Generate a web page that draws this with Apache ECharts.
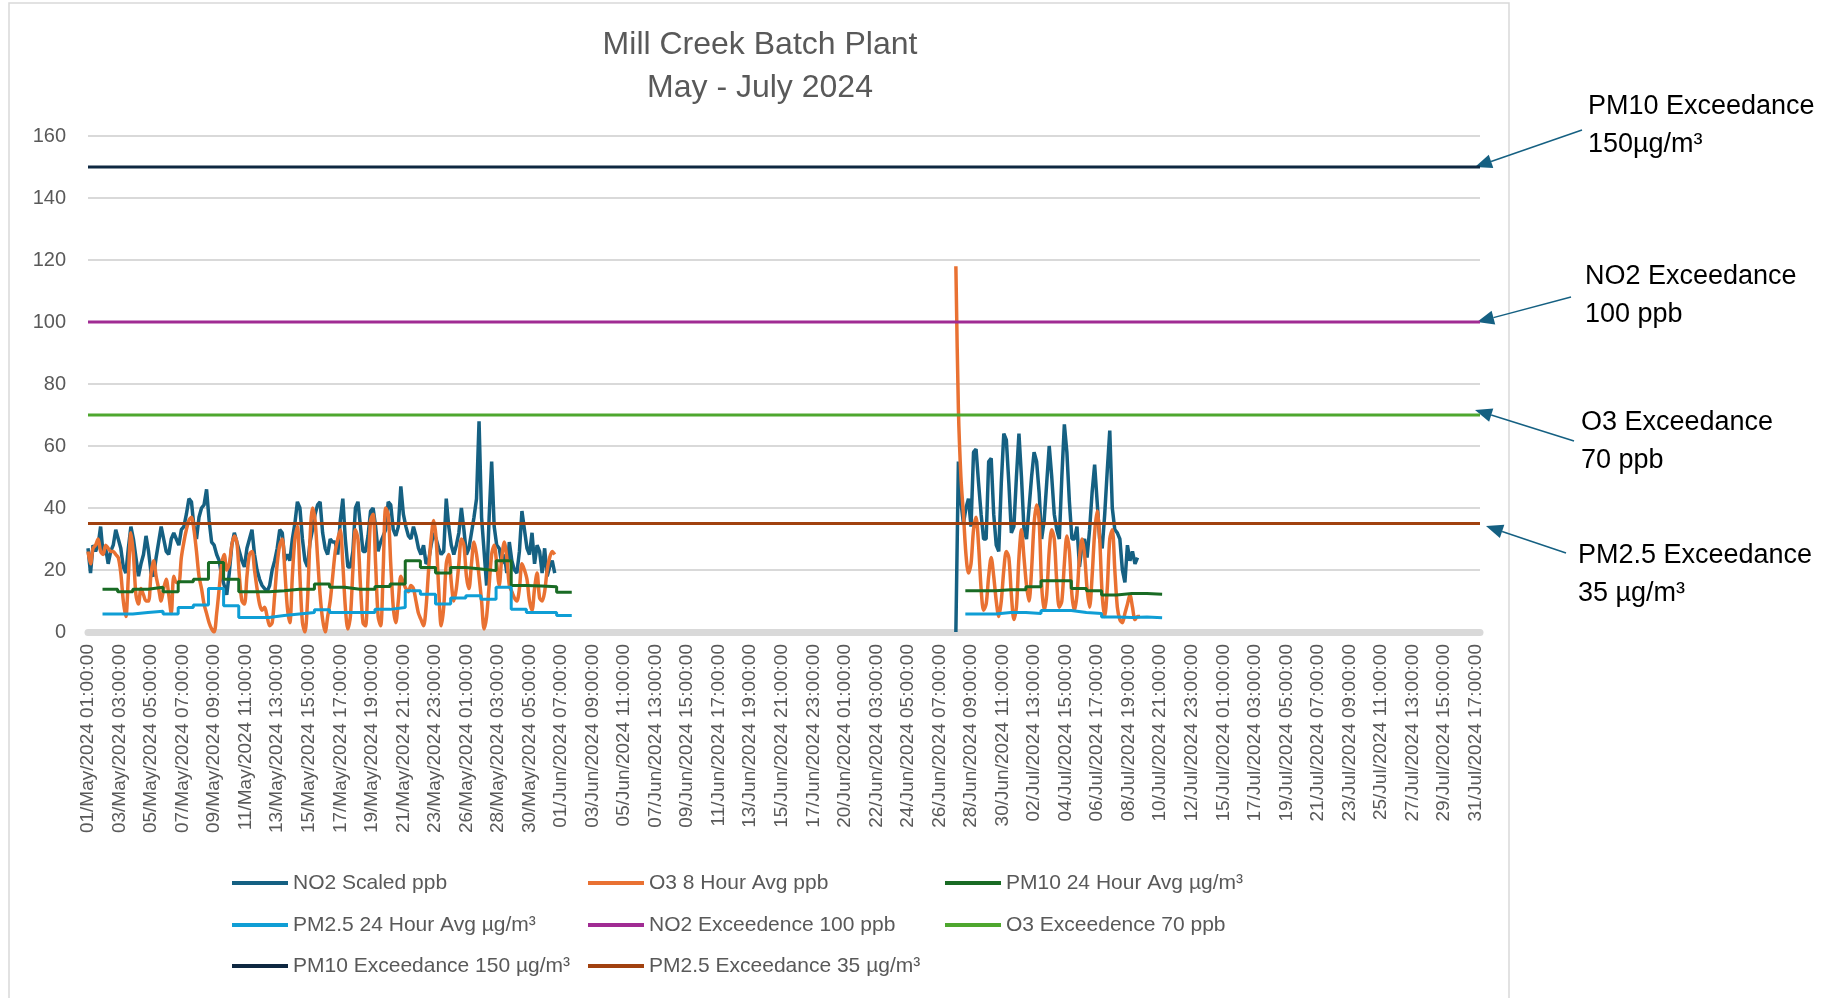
<!DOCTYPE html>
<html>
<head>
<meta charset="utf-8">
<title>Mill Creek Batch Plant</title>
<script src="https://cdn.jsdelivr.net/npm/echarts@6.0.0/dist/echarts.min.js"></script>
<style>
  html, body { margin: 0; padding: 0; background: #fff; }
  #chart { width: 1838px; height: 998px; }
</style>
</head>
<body>
<div id="chart"></div>
<script>
// hourly categories, 01/May/2024 01:00 to 01/Aug/2024 00:00
const startTime = Date.UTC(2024, 4, 1, 1);
const hourCount = 2208;
const monthNames = ['Jan', 'Feb', 'Mar', 'Apr', 'May', 'Jun', 'Jul', 'Aug'];

// NO2 Scaled ppb, one reading every 4 hours from 01/May 01:00
const no2May = [
  27, 19, 28, 26, 28, 34,  25, 27, 22, 26, 28, 33,  30, 27, 21, 19, 27, 34,
  30, 24, 18, 22, 25, 31,  26, 19, 18, 24, 29, 34,  30, 26, 25, 30, 32, 30,
  28, 33, 34, 38, 43, 42,  34, 30, 37, 40, 41, 46,  36, 29, 28, 25, 23, 18,
  15, 12, 19, 28, 32, 29,  26, 23, 21, 27, 30, 33,  25, 20, 17, 15, 14, 13,
  15, 20, 23, 27, 33, 32,  23, 25, 23, 30, 35, 42,  40, 30, 23, 21, 29, 33,
  38, 41, 42, 32, 27, 25,  30, 29, 29, 25, 36, 43,  30, 21, 21, 26, 40, 42,
  34, 26, 26, 31, 39, 40,  34, 26, 29, 31, 33, 42,  41, 33, 31, 34, 47, 38,
  34, 31, 30, 34, 31, 27,  25, 28, 22, 23, 28, 32,  30, 27, 25, 26, 43, 34,
  28, 25, 28, 32, 40, 33,  25, 27, 32, 37, 43, 68,  37, 26, 15, 37, 55, 34,
  28, 27, 22, 25, 19, 29,  23, 20, 19, 26, 39, 33,  27, 25, 32, 22, 28, 26,
  19, 27, 18, 21, 23, 19
];
// every 4 hours from 27/Jun 09:00
const no2Jun = [
  0, 55, 42, 35, 40, 43, 34, 58, 59, 48, 38, 30, 30, 55, 56, 38, 28, 26,
  48, 64, 62, 48, 32, 34, 50, 64, 50, 33, 30, 40, 50, 58, 55, 45, 30, 36,
  48, 60, 50, 38, 33, 30, 50, 67, 58, 42, 30, 30, 34, 21, 28, 30, 24, 33,
  45, 54, 42, 30, 27, 38, 52, 65, 40, 33, 32, 30, 20, 16, 28, 23, 26, 22, 24
];

// O3 8 Hour Avg ppb, same timing as NO2
const o3May = [
  26, 22, 27, 28, 30, 26,  25, 28, 27, 26, 26, 25,  24, 19, 10, 5, 18, 32,
  25, 12, 9, 14, 12, 10,  10, 19, 23, 18, 14, 10,  14, 17, 12, 6, 18, 16,
  16, 24, 29, 33, 36, 37,  33, 26, 18, 14, 9, 6,  3, 1, 0, 6, 14, 22,
  25, 20, 22, 28, 31, 29,  18, 10, 9, 18, 25, 26,  20, 14, 9, 7, 8, 5,
  2, 3, 12, 22, 28, 30,  20, 8, 3, 18, 30, 34,  18, 3, 0, 10, 30, 40,
  36, 24, 12, 4, 0, 5,  10, 18, 26, 30, 33, 22,  8, 1, 5, 20, 33, 30,
  15, 3, 2, 18, 36, 38,  22, 5, 2, 20, 40, 38,  22, 8, 3, 10, 18, 16,
  14, 13, 15, 14, 10, 6,  4, 2, 8, 20, 30, 36,  30, 14, 2, 8, 22, 25,
  16, 10, 14, 22, 30, 28,  18, 14, 22, 29, 25, 18,  10, 1, 5, 15, 25, 28,
  22, 15, 24, 29, 24, 15,  13, 11, 10, 14, 22, 20,  17, 10, 7, 14, 19, 11,
  10, 13, 20, 24, 26, 25
];
const o3Jun = [
  118, 72, 50, 38, 25, 19, 22, 33, 37, 28, 14, 7, 9, 18, 24, 18, 10, 5,
  10, 20, 26, 24, 12, 4, 8, 24, 33, 24, 15, 10, 20, 35, 41, 36, 15, 7,
  12, 26, 33, 30, 16, 8, 10, 22, 31, 26, 12, 7, 12, 24, 30, 25, 14, 8,
  18, 32, 39, 30, 12, 5, 14, 30, 33, 20, 8, 4, 3, 6, 9, 12, 8, 4, 5, 5
];

// 24 hour averages, one value per day (from 02/May and from 28/Jun)
const pm10May = [13.8, 13, 13.8, 14.4, 13, 16.2, 17, 22.4, 17, 13, 13, 13.3, 13.8, 13.8, 15.5, 14.4,
  13.8, 13.8, 14.7, 15.5, 23, 20.8, 19, 20.8, 20.3, 19.8, 23, 15, 14.8, 14.6, 12.8];
const pm25May = [5.8, 5.8, 6.3, 6.7, 5.8, 7.9, 8.7, 14, 8.5, 4.7, 4.7, 5.3, 5.8, 6.3, 7.2, 6.3,
  6.3, 6.3, 7.3, 7.9, 13.3, 12.2, 9, 11, 11.7, 10.6, 14.4, 7.3, 6.3, 6.3, 5.3];
const pm10Jun = [13.3, 13.3, 13.6, 13.6, 14.6, 16.5, 16.5, 14, 13.3, 11.9, 12.4, 12.4, 12.2];
const pm25Jun = [5.8, 5.8, 6.3, 6.3, 6.0, 6.9, 6.9, 6.3, 6.0, 4.8, 4.7, 4.8, 4.6];

// exceedance limits
const no2Limit = 100;
const o3Limit = 70;
const pm10Limit = 150;
const pm25Limit = 35;

const yTicks = [0, 20, 40, 60, 80, 100, 120, 140, 160];

function pad(n) { return n < 10 ? '0' + n : '' + n; }

const categories = [];
for (let i = 0; i < hourCount; i++) {
  const d = new Date(startTime + i * 3600e3);
  categories.push(pad(d.getUTCDate()) + '/' + monthNames[d.getUTCMonth()] + '/2024 ' +
    pad(d.getUTCHours()) + ':00:00');
}

// category index of a given day and hour
function hourIdx(month, day, hour) {
  return (Date.UTC(2024, month - 1, day, hour) - startTime) / 3600e3;
}

function sampled(values, start, step) {
  return values.map((v, k) => [start + k * step, v]);
}

function daily(values, start) {
  const pts = values.map((v, k) => [start + 24 * k, v]);
  pts.push([start + 24 * values.length, values[values.length - 1]]);
  return pts;
}

function flat(value) {
  return [[0, value], [hourCount - 1, value]];
}

const font = '"Liberation Sans", Arial, sans-serif';
const names = [
  'NO2 Scaled ppb', 'O3 8 Hour Avg ppb', 'PM10 24 Hour Avg µg/m³',
  'PM2.5 24 Hour Avg µg/m³', 'NO2 Exceedence 100 ppb', 'O3 Exceedence 70 ppb',
  'PM10 Exceedance 150 µg/m³', 'PM2.5 Exceedance 35 µg/m³'
];
const colors = ['#156082', '#E97132', '#196B24', '#0F9ED5', '#A02B93', '#4EA72E', '#0E2841', '#A1410F'];

function line(i, data, width, extra) {
  return Object.assign({
    name: names[i],
    type: 'line',
    data: data,
    color: colors[i],
    showSymbol: false,
    symbol: 'none',
    silent: true,
    lineStyle: { width: width, color: colors[i] }
  }, extra || {});
}

const series = [
  line(0, sampled(no2May, hourIdx(5, 1, 1), 4), 3.5),
  line(0, sampled(no2Jun, hourIdx(6, 27, 9), 4), 3.5),
  line(1, sampled(o3May, hourIdx(5, 1, 1), 4), 3.5, { smooth: 0.3 }),
  line(1, sampled(o3Jun, hourIdx(6, 27, 9), 4), 3.5, { smooth: 0.3 }),
  line(2, daily(pm10May, hourIdx(5, 2, 0)), 3, { step: 'end' }),
  line(2, daily(pm10Jun, hourIdx(6, 28, 0)), 3, { step: 'end' }),
  line(3, daily(pm25May, hourIdx(5, 2, 0)), 3, { step: 'end' }),
  line(3, daily(pm25Jun, hourIdx(6, 28, 0)), 3, { step: 'end' }),
  line(4, flat(no2Limit), 3),
  line(5, flat(o3Limit), 3),
  line(6, flat(pm10Limit), 3),
  line(7, flat(pm25Limit), 3)
];

const legendPos = [[232, 883], [588, 883], [945, 883], [232, 925], [588, 925], [945, 925], [232, 966], [588, 966]];
const legends = names.map((n, i) => ({
  data: [n],
  left: legendPos[i][0],
  top: legendPos[i][1] - 12,
  padding: 0,
  icon: 'rect',
  itemWidth: 56,
  itemHeight: 4,
  selectedMode: false,
  textStyle: { fontSize: 21, color: '#595959', fontFamily: font, lineHeight: 24 }
}));

function arrow(x1, y1, x2, y2) {
  const len = Math.hypot(x2 - x1, y2 - y1);
  const ux = (x2 - x1) / len, uy = (y2 - y1) / len;
  const bx = x2 - ux * 17, by = y2 - uy * 17;
  return {
    type: 'group',
    children: [
      { type: 'line', shape: { x1: x1, y1: y1, x2: bx, y2: by }, style: { stroke: '#156082', lineWidth: 1.5 } },
      { type: 'polygon', shape: { points: [[x2, y2], [bx - uy * 7, by + ux * 7], [bx + uy * 7, by - ux * 7]] },
        style: { fill: '#156082' } }
    ]
  };
}

function note(text, x, y) {
  return {
    type: 'text', x: x, y: y,
    style: { text: text, font: '27px ' + font, fill: '#000', lineHeight: 38, verticalAlign: 'top' }
  };
}

let chart = echarts.init(document.getElementById('chart'), null, { renderer: 'canvas' });
let option = {
  animation: false,
  title: {
    text: 'Mill Creek Batch Plant\nMay - July 2024',
    left: 755,
    top: 19,
    textAlign: 'center',
    textStyle: { fontSize: 32, fontWeight: 'normal', color: '#595959', fontFamily: font, lineHeight: 43 }
  },
  legend: legends,
  grid: { left: 88, right: 358, top: 136, height: 496 },
  xAxis: {
    type: 'category',
    data: categories,
    boundaryGap: false,
    axisLine: { lineStyle: { color: '#d9d9d9', width: 7 } },
    axisTick: { show: false },
    splitLine: { show: false },
    axisLabel: { interval: 49, rotate: 90, margin: 12, fontSize: 19, color: '#595959', fontFamily: font }
  },
  yAxis: {
    type: 'value',
    min: yTicks[0],
    max: yTicks[yTicks.length - 1],
    interval: yTicks[1] - yTicks[0],
    axisLine: { show: false },
    axisTick: { show: false },
    splitLine: { lineStyle: { color: '#d9d9d9', width: 2 } },
    axisLabel: { fontSize: 20, color: '#595959', fontFamily: font, margin: 22 }
  },
  graphic: [
    { type: 'rect', z: -10, shape: { x: 9, y: 3, width: 1500, height: 1010 },
      style: { fill: 'none', stroke: '#d9d9d9', lineWidth: 1.5 } },
    arrow(1582, 130, 1475, 167),
    arrow(1571, 297, 1477, 322),
    arrow(1574, 441, 1475, 410),
    arrow(1566, 553, 1486, 526),
    note('PM10 Exceedance\n150µg/m³', 1588, 88),
    note('NO2 Exceedance\n100 ppb', 1585, 258),
    note('O3 Exceedance\n70 ppb', 1581, 404),
    note('PM2.5 Exceedance\n35 µg/m³', 1578, 537)
  ],
  series: series
};
option && chart.setOption(option);
</script>
</body>
</html>
